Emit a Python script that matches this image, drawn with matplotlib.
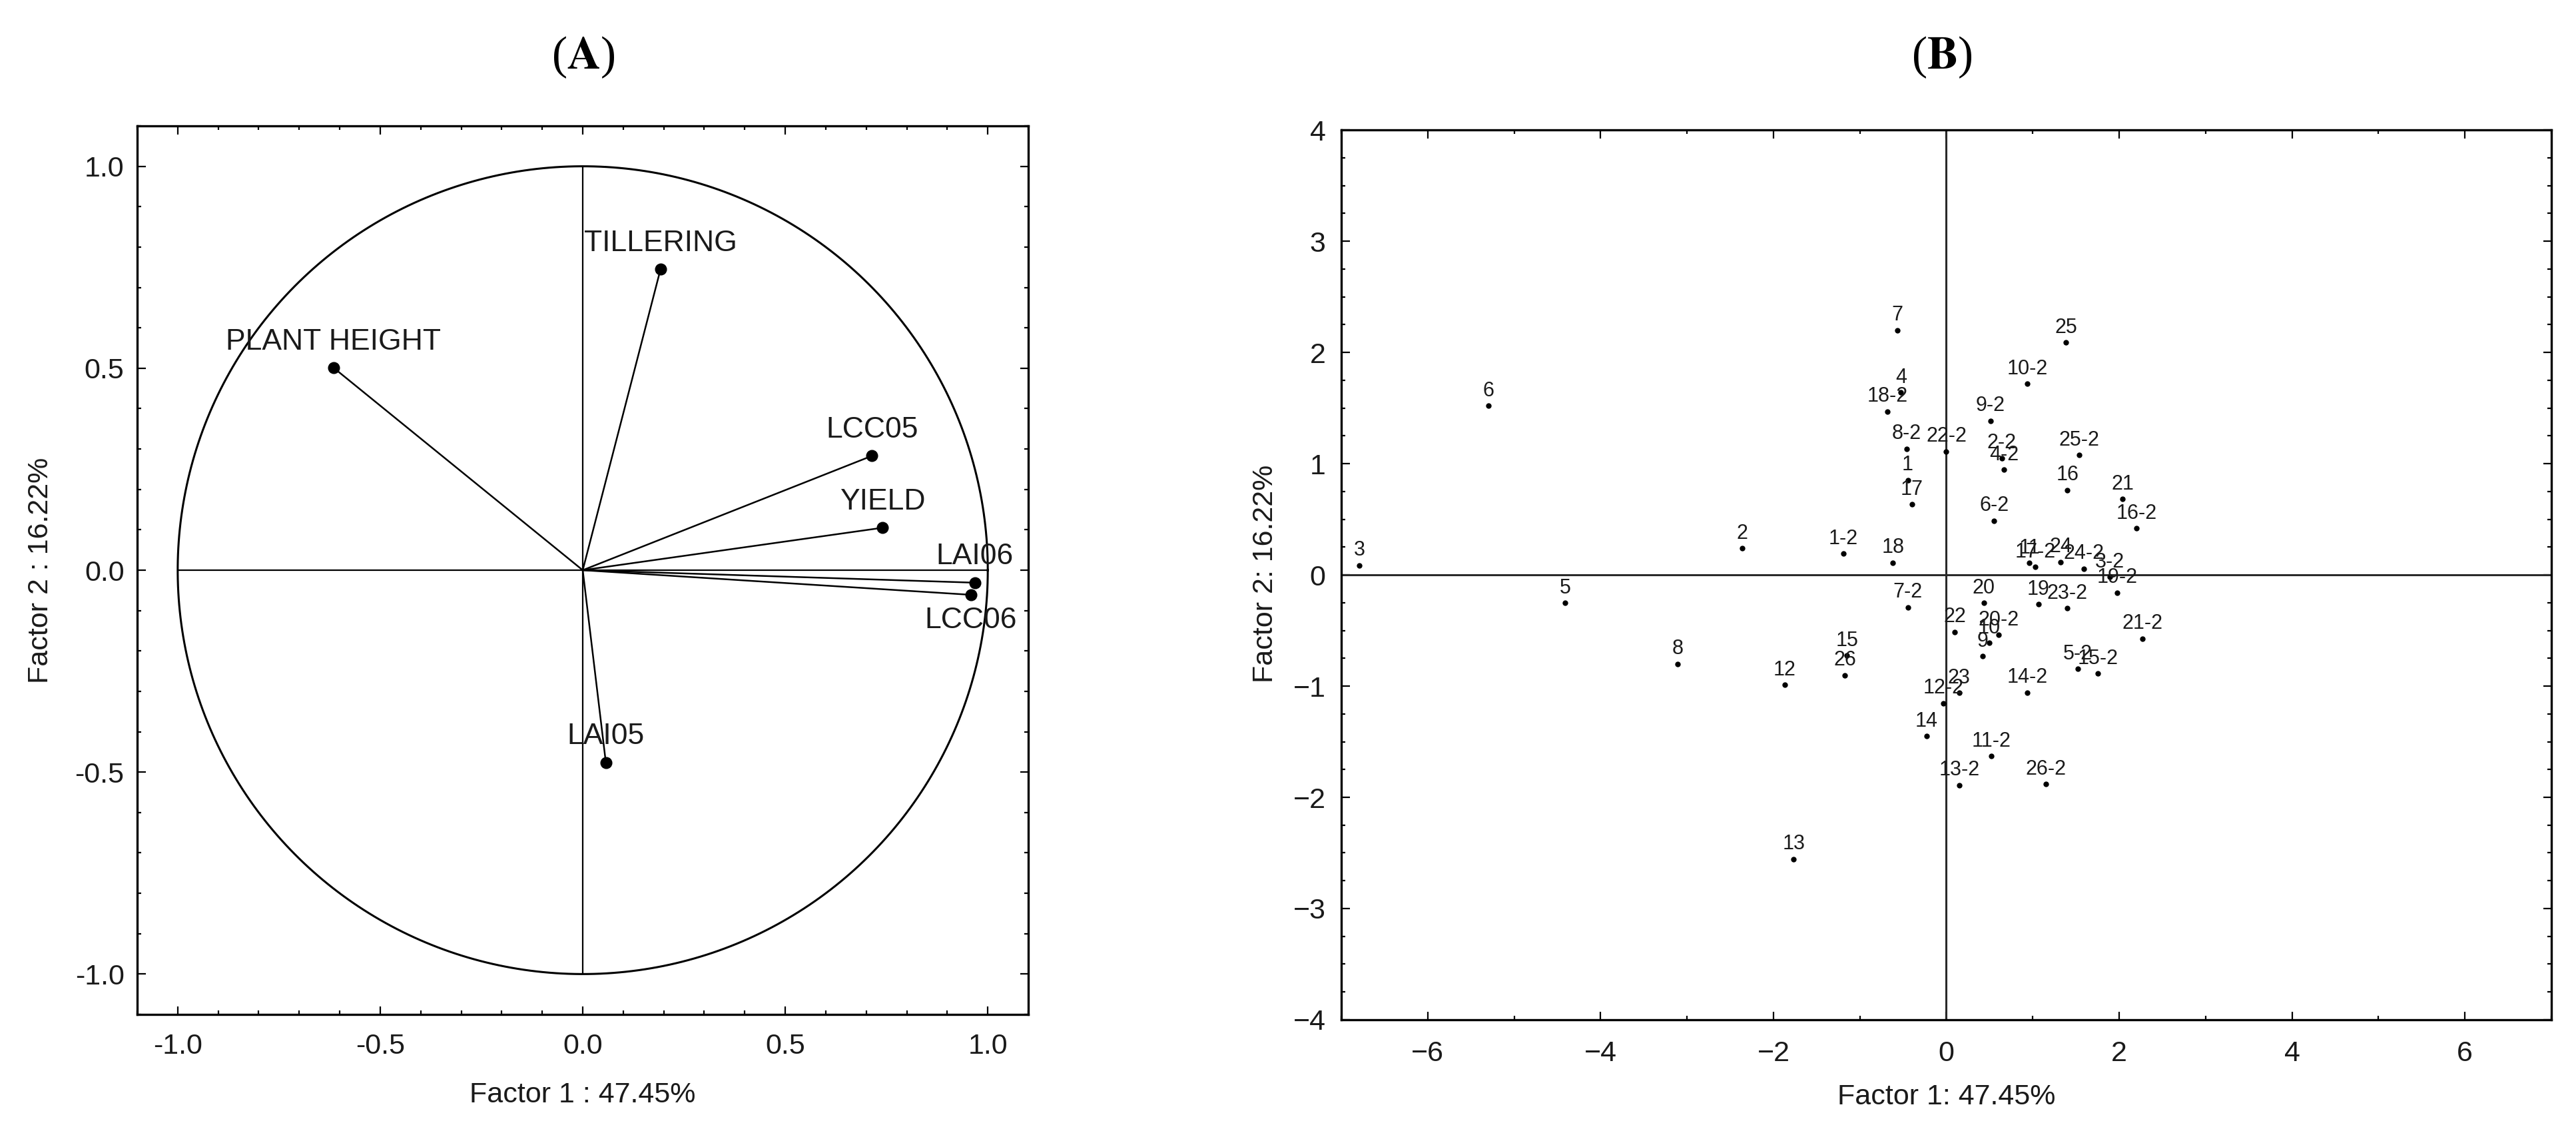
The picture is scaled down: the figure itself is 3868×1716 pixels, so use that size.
import numpy as np
import matplotlib
matplotlib.use('Agg')
import matplotlib.pyplot as plt
from matplotlib.ticker import MultipleLocator

plt.rcParams['font.family'] = ['Liberation Sans', 'DejaVu Sans']
plt.rcParams['mathtext.fontset'] = 'stix'

# (A) factor loadings of the variables
var_names = ['PLANT HEIGHT', 'TILLERING', 'LCC05', 'YIELD', 'LAI06', 'LCC06', 'LAI05']
load_f1 = [-0.615, 0.192, 0.714, 0.740, 0.968, 0.958, 0.057]
load_f2 = [0.501, 0.745, 0.283, 0.105, -0.031, -0.061, -0.476]

# (B) factor scores of the cases
case_names = ['1', '2', '3', '4', '5', '6', '7', '8', '9', '10', '11', '12', '13',
              '14', '15', '16', '17', '18', '19', '20', '21', '22', '23', '24', '25', '26',
              '1-2', '2-2', '3-2', '4-2', '5-2', '6-2', '7-2', '8-2', '9-2', '10-2',
              '11-2', '12-2', '13-2', '14-2', '15-2', '16-2', '17-2', '18-2', '19-2',
              '20-2', '21-2', '22-2', '23-2', '24-2', '25-2', '26-2']
score_f1 = [-0.446, -2.36, -6.79, -0.525, -4.41, -5.30, -0.57, -3.11, 0.418, 0.494,
            0.961, -1.87, -1.766, -0.23, -1.148, 1.40, -0.40, -0.619, 1.065, 0.432,
            2.04, 0.097, 0.149, 1.324, 1.386, -1.172,
            -1.19, 0.643, 1.89, 0.667, 1.524, 0.553, -0.446, -0.46, 0.51, 0.937,
            0.522, -0.031, 0.149, 0.937, 1.756, 2.20, 1.03, -0.68, 1.974,
            0.605, 2.268, 0.0, 1.40, 1.59, 1.538, 1.151]
score_f2 = [0.853, 0.24, 0.086, 1.64, -0.25, 1.52, 2.20, -0.80, -0.733, -0.612,
            0.106, -0.99, -2.554, -1.45, -0.727, 0.763, 0.633, 0.11, -0.265, -0.251,
            0.68, -0.512, -1.062, 0.116, 2.09, -0.902,
            0.19, 1.05, -0.02, 0.946, -0.847, 0.488, -0.291, 1.134, 1.386, 1.72,
            -1.63, -1.153, -1.89, -1.058, -0.888, 0.417, 0.07, 1.47, -0.159,
            -0.54, -0.572, 1.11, -0.301, 0.056, 1.076, -1.88]

txt = '#1a1a1a'

fig = plt.figure(figsize=(38.68, 17.16), dpi=100)

# ---------- panel A ----------
ax1 = fig.add_axes([0.05326, 0.11247, 0.34592, 0.77739])
t = np.linspace(0, 2 * np.pi, 400)
ax1.plot(np.cos(t), np.sin(t), color='black', lw=2.2)
ax1.plot([-1, 1], [0, 0], color='black', lw=1.6)
ax1.plot([0, 0], [-1, 1], color='black', lw=1.6)
for name, x, y in zip(var_names, load_f1, load_f2):
    ax1.plot([0, x], [0, y], color='black', lw=1.8)
    dy = -28 if name == 'LCC06' else 28
    ax1.annotate(name, (x, y), xytext=(0, dy), textcoords='offset points',
                 ha='center', va='center', fontsize=32, color=txt)
ax1.plot(load_f1, load_f2, 'o', color='black', ms=12)
ax1.set_xlim(-1.1, 1.1)
ax1.set_ylim(-1.1, 1.1)
ax1.xaxis.set_major_locator(MultipleLocator(0.5))
ax1.xaxis.set_minor_locator(MultipleLocator(0.1))
ax1.yaxis.set_major_locator(MultipleLocator(0.5))
ax1.yaxis.set_minor_locator(MultipleLocator(0.1))
ax1.xaxis.set_major_formatter(lambda v, p: '%.1f' % v)
ax1.yaxis.set_major_formatter(lambda v, p: '%.1f' % v)

# ---------- panel B ----------
ax2 = fig.add_axes([0.52068, 0.10781, 0.46975, 0.77855])
ax2.axhline(0, color='#2a2a2a', lw=2.2)
ax2.axvline(0, color='#2a2a2a', lw=2.2)
ax2.plot(score_f1, score_f2, 'o', color='black', ms=5)
for name, x, y in zip(case_names, score_f1, score_f2):
    ax2.annotate(name, (x, y), xytext=(0, 16), textcoords='offset points',
                 ha='center', va='center', fontsize=22, color=txt)
ax2.set_xlim(-7, 7)
ax2.set_ylim(-4, 4)
ax2.xaxis.set_major_locator(MultipleLocator(2))
ax2.xaxis.set_minor_locator(MultipleLocator(1))
ax2.yaxis.set_major_locator(MultipleLocator(1))
ax2.yaxis.set_minor_locator(MultipleLocator(0.25))

for ax in (ax1, ax2):
    for s in ax.spines.values():
        s.set_linewidth(2.4)
        s.set_color('black')
    ax.tick_params(which='both', direction='in', top=True, right=True,
                   width=1.6, colors='black', labelcolor=txt, labelsize=31)
    ax.tick_params(which='major', length=9)
    ax.tick_params(which='minor', length=4.5)
ax1.tick_params(axis='x', pad=20)
ax1.tick_params(axis='y', pad=14)
ax2.tick_params(axis='x', pad=22)
ax2.tick_params(axis='y', pad=17)

# axis titles
fig.text(0.2262, 0.042, 'Factor 1 : 47.45%', ha='center', va='center', fontsize=31, color=txt)
fig.text(0.0158, 0.501, 'Factor 2 : 16.22%', ha='center', va='center', rotation=90,
         fontsize=31, color=txt)
fig.text(0.7557, 0.040, 'Factor 1: 47.45%', ha='center', va='center', fontsize=31, color=txt)
fig.text(0.4912, 0.498, 'Factor 2: 16.22%', ha='center', va='center', rotation=90,
         fontsize=31, color=txt)

# panel letters
fig.text(0.2265, 0.95, r'($\mathbf{A}$)', ha='center', va='center', fontsize=50,
         family='Liberation Serif', color='black')
fig.text(0.7539, 0.95, r'($\mathbf{B}$)', ha='center', va='center', fontsize=50,
         family='Liberation Serif', color='black')

fig.savefig('out.png', dpi=100, facecolor='white')
